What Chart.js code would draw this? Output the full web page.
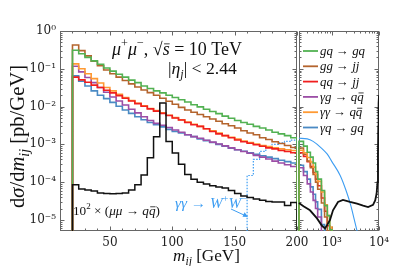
<!DOCTYPE html>
<html>
<head>
<meta charset="utf-8">
<script src="https://cdn.jsdelivr.net/npm/chart.js@4"></script>
<style>
  html, body { margin: 0; padding: 0; background: #fff; }
  canvas { display: block; }
</style>
</head>
<body>
<canvas id="c" width="399" height="266" style="width:399px;height:266px"></canvas>
<script>
// low edges of the 5 GeV bins in the left (linear) panel
const massLow = [20,25,30,35,40,45,50,55,60,65,70,75,80,85,90,95,100,105,110,115,120,125,130,135,140,145,150,155,160,165,170,175,180,185,190,195];
const gqGq = [0.309,0.251,0.200,0.162,0.132,0.105,0.087,0.072,0.060,0.050,0.043,0.035,0.030,0.026,0.023,0.020,0.0174,0.0151,0.0132,0.0112,0.0098,0.0085,0.0074,0.0065,0.0056,0.0049,0.0043,0.0038,0.0034,0.0030,0.0027,0.0024,0.0021,0.0019,0.0017,0.0015];
const ggJj = [0.427,0.302,0.219,0.158,0.120,0.093,0.074,0.060,0.049,0.040,0.033,0.0275,0.0234,0.0200,0.0166,0.0138,0.0115,0.0095,0.0081,0.0071,0.0062,0.0054,0.0047,0.0041,0.0035,0.0031,0.0027,0.0023,0.0020,0.0018,0.0015,0.00135,0.00117,0.00105,0.00093,0.00083];
const qqJj = [0.060,0.051,0.044,0.037,0.032,0.027,0.023,0.0195,0.0166,0.0141,0.0120,0.0102,0.0087,0.0076,0.0066,0.0058,0.0050,0.0044,0.0038,0.0033,0.0030,0.0026,0.0022,0.0019,0.0017,0.0015,0.0013,0.00117,0.00107,0.00098,0.00089,0.00081,0.00076,0.00069,0.00065,0.00060];
const agQq = [0.117,0.083,0.059,0.043,0.032,0.024,0.018,0.0141,0.0110,0.0085,0.0068,0.0054,0.0043,0.0036,0.0032,0.0028,0.0024,0.0021,0.0018,0.0016,0.00145,0.00129,0.00115,0.00102,0.00091,0.00081,0.00072,0.00065,0.00058,0.00051,0.00046,0.00041,0.00036,0.00032,0.00029,0.00026];
const aaQq = [0.135,0.100,0.074,0.055,0.042,0.032,0.026,0.021,0.0174,0.0145,0.0123,0.0105,0.0089,0.0078,0.0068,0.0059,0.0051,0.0045,0.0039,0.0034,0.0030,0.0026,0.0023,0.0020,0.0017,0.00155,0.00138,0.00123,0.00112,0.00102,0.00093,0.00087,0.00081,0.00076,0.00072,0.00069];
const aqGq = [0.065,0.047,0.035,0.026,0.020,0.0162,0.0129,0.0102,0.0081,0.0066,0.0054,0.0045,0.0038,0.0033,0.0029,0.0025,0.0022,0.0020,0.0018,0.0016,0.0014,0.00126,0.00112,0.00100,0.00089,0.00079,0.00072,0.00066,0.00060,0.00055,0.00050,0.00046,0.00042,0.00038,0.00035,0.00032];
// 10^2 x (mu mu -> q qbar)
const mumuQq = [8.5e-5,6.6e-5,6.2e-5,5.8e-5,5.2e-5,5.0e-5,4.9e-5,5.0e-5,5.2e-5,6.2e-5,8.5e-5,1.55e-4,4.4e-4,1.6e-3,1.25e-2,1.2e-3,5.9e-4,3.0e-4,1.6e-4,1.2e-4,1.0e-4,9e-5,8e-5,7.4e-5,7e-5,6e-5,5e-5,4.3e-5,3.9e-5,3.6e-5,3.3e-5,3.1e-5,3.0e-5,3.0e-5,2.4e-5,2.9e-5];
const wwLow = [160,165,170,175,180,185,190,195];
const aaWW = [1.5e-4,4e-4,6.5e-4,8.5e-4,1.0e-3,1.1e-3,1.2e-3,1.3e-3];

// right (log) panel
const highMass = [200,250,300,350,400,450,500,600,700,800,900,1000];
const gqGqHigh = [1.2e-3,9e-4,6.2e-4,4.6e-4,3.2e-4,1.9e-4,1.2e-4,6e-5,2.4e-5,1.3e-5,5.5e-6,3e-6];
const ggJjHigh = [8e-4,5.5e-4,3.6e-4,2.4e-4,1.6e-4,1e-4,6.5e-5,2.8e-5,1.2e-5,5e-6,2.5e-6,1.2e-6];
const qqJjHigh = [6e-4,4.8e-4,3.5e-4,2.6e-4,1.8e-4,1.2e-4,8e-5,3.8e-5,1.7e-5,7e-6,3.5e-6,1.5e-6];
const agQqHigh = [2.4e-4,1.5e-4,9e-5,5.5e-5,3.3e-5,2e-5,1.2e-5,4.5e-6,2e-6,8e-7,3e-7,1e-7];
const aaQqHigh = [7e-4,6e-4,4.5e-4,3.4e-4,2.5e-4,1.6e-4,1.05e-4,5.5e-5,2.5e-5,1.3e-5,6.5e-6,3.5e-6];
const aqGqHigh = [2.8e-4,1.9e-4,1.2e-4,7.5e-5,4.8e-5,3e-5,1.9e-5,7.5e-6,3e-6,1.2e-6,5e-7,2e-7];
const mumuMass = [200,250,343,484,617,716,800,914,1056,1350,1720,2420,3420,4600,5870,7480,8300,8900,9300,9500,9650,9800,10000];
const mumuHigh = [2.8e-5,2.3e-5,1.8e-5,1.1e-5,7e-6,6e-6,7.5e-6,1e-5,1.8e-5,3e-5,3.4e-5,3e-5,2.7e-5,2.4e-5,2.2e-5,2.5e-5,3.3e-5,5e-5,1e-4,5e-4,3e-3,1.2e-2,2e-2];
const wwMass = [200,300,400,600,800,1000,1500,2000,2500,3000,3500,4000];
const aaWWHigh = [1.45e-3,1.4e-3,1.2e-3,8e-4,5.5e-4,3.5e-4,1.5e-4,6e-5,2.5e-5,1e-5,4.5e-6,2e-6];

const yTicks = [1e-5,1e-4,1e-3,1e-2,1e-1,1];
const xTicks = [50,100,150,200];
const x2Ticks = [1000,10000];

const FLOOR = 1e-8;
const C = {
  green: '#52b152', brown: '#b4642d', red: '#f01f1f', purple: '#9c4ea6',
  orange: '#ff9a33', blue: '#4a8ac4', ww: '#3d9df2', black: '#111111'
};

// step histogram points: rise from below at first edge, drop at last edge
function hist(lows, vals, hi) {
  const pts = [{x: lows[0], y: FLOOR}];
  lows.forEach((m, i) => pts.push({x: m, y: vals[i]}));
  pts.push({x: hi, y: vals[vals.length - 1]});
  pts.push({x: hi, y: FLOOR});
  return pts;
}
function curve(ms, vals) { return ms.map((m, i) => ({x: m, y: vals[i]})); }

function ds(data, color, axis, extra) {
  return Object.assign({
    data: data, xAxisID: axis, yAxisID: 'y', borderColor: color,
    borderWidth: 1.6, stepped: true, pointRadius: 0, fill: false
  }, extra || {});
}

const datasets = [
  ds(hist(massLow, mumuQq, 200), C.black, 'x', {borderWidth: 1.5}),
  ds(curve(mumuMass, mumuHigh), C.black, 'x2', {stepped: false, borderWidth: 1.8}),
  ds(hist(massLow, gqGq, 200), C.green, 'x'),
  ds(hist(highMass, gqGqHigh, 1100), C.green, 'x2'),
  ds(hist(highMass, aaQqHigh, 1100), C.orange, 'x2'),
  ds(hist(massLow, ggJj, 200), C.brown, 'x'),
  ds(hist(highMass, ggJjHigh, 1100), C.brown, 'x2'),
  ds(hist(massLow, qqJj, 200), C.red, 'x'),
  ds(hist(highMass, qqJjHigh, 1100), C.red, 'x2'),
  ds(hist(massLow, aaQq, 200), C.orange, 'x'),
  ds(hist(massLow, agQq, 200), C.purple, 'x'),
  ds(hist(highMass, agQqHigh, 1100), C.purple, 'x2'),
  ds(hist(massLow, aqGq, 200), C.blue, 'x'),
  ds(hist(highMass, aqGqHigh, 1100), C.blue, 'x2'),
  ds(hist(wwLow, aaWW, 200), C.ww, 'x', {borderWidth: 1.2, borderDash: [1.5, 1.5]}),
  ds(curve(wwMass, aaWWHigh), C.ww, 'x2', {stepped: false, borderWidth: 1.1, cubicInterpolationMode: 'monotone'})
];

const legendItems = [
  [C.green, [['gq','i'],[' \u2192 ','r'],['gq','i']]],
  [C.brown, [['gg','i'],[' \u2192 ','r'],['jj','i']]],
  [C.red, [['qq','i'],[' \u2192 ','r'],['jj','i']]],
  [C.purple, [['\u03b3g','i'],[' \u2192 ','r'],['q','i'],['q','ib']]],
  [C.orange, [['\u03b3\u03b3','i'],[' \u2192 ','r'],['q','i'],['q','ib']]],
  [C.blue, [['\u03b3q','i'],[' \u2192 ','r'],['gq','i']]]
];

const FONT = '"Liberation Serif", "DejaVu Serif", serif';
// [italic, size factor, baseline shift, overbar]
const STY = { r:[0,1,0], i:[1,1,0], sr:[0,.68,-.42], si:[1,.68,-.42], bi:[1,.68,.25], ib:[1,1,0,1] };
function setFont(ctx, k, s) {
  const st = STY[k];
  ctx.font = (st[0] ? 'italic ' : '') + (s * st[1]).toFixed(2) + 'px ' + FONT;
  return st;
}
function richWidth(ctx, parts, s) {
  let w = 0;
  for (const [t, k] of parts) { setFont(ctx, k, s); w += ctx.measureText(t).width; }
  return w;
}
function fitSize(ctx, parts, width) { return 12 * width / richWidth(ctx, parts, 12); }
function rich(ctx, parts, x, y, s, color) {
  ctx.fillStyle = color; ctx.strokeStyle = color;
  ctx.textAlign = 'left'; ctx.textBaseline = 'alphabetic';
  let cx = x;
  for (const [t, k] of parts) {
    const st = setFont(ctx, k, s);
    const w = ctx.measureText(t).width;
    ctx.fillText(t, cx, y + st[2] * s);
    if (st[3]) {
      ctx.lineWidth = 0.8;
      ctx.beginPath();
      ctx.moveTo(cx + w * 0.2, y - s * 0.62);
      ctx.lineTo(cx + w * 1.0, y - s * 0.62);
      ctx.stroke();
    }
    cx += w;
  }
}
function richFit(ctx, parts, x, y, width, color) { rich(ctx, parts, x, y, fitSize(ctx, parts, width), color); }

function panelEdges(chart) {
  const xs = chart.scales.x, x2 = chart.scales.x2;
  return {
    top: Math.round(chart.chartArea.top) + 0.5,
    bot: Math.round(chart.chartArea.bottom) - 0.5,
    p1l: Math.round(xs.left) + 0.5, p1r: Math.round(xs.right) - 0.5,
    p2l: Math.round(x2.getPixelForValue(200)) + 0.5, p2r: Math.round(x2.right) - 0.5
  };
}

const deco = {
  id: 'deco',
  // frames and inward ticks go under the histograms
  beforeDatasetsDraw(chart) {
    const ctx = chart.ctx;
    const ys = chart.scales.y, xs = chart.scales.x, x2 = chart.scales.x2;
    const {top, bot, p1l, p1r, p2l, p2r} = panelEdges(chart);
    ctx.save();
    ctx.strokeStyle = '#666'; ctx.lineWidth = 1;
    ctx.strokeRect(p1l, top, p1r - p1l, bot - top);
    ctx.strokeRect(p2l, top, p2r - p2l, bot - top);
    ctx.beginPath();
    for (let e = -6; e <= 0; e++) {
      for (let k = 1; k <= 9; k++) {
        const v = k * Math.pow(10, e);
        if (v < ys.min || v > ys.max) continue;
        const y = Math.round(ys.getPixelForValue(v)) + 0.5;
        const len = k === 1 ? 4 : 2;
        [[p1l, 1], [p1r, -1], [p2l, 1], [p2r, -1]].forEach(([x, d]) => {
          ctx.moveTo(x, y); ctx.lineTo(x + d * len, y);
        });
      }
    }
    for (let m = 10; m <= 200; m += 10) {
      const x = Math.round(xs.getPixelForValue(m)) + 0.5;
      const len = m % 50 === 0 ? 4 : 2;
      ctx.moveTo(x, bot); ctx.lineTo(x, bot - len);
      ctx.moveTo(x, top); ctx.lineTo(x, top + len);
    }
    const logT = [];
    for (let m = 200; m < 1000; m += 100) logT.push(m);
    for (let m = 1000; m <= 10000; m += 1000) logT.push(m);
    logT.forEach(m => {
      const x = Math.round(x2.getPixelForValue(m)) + 0.5;
      const len = (m === 1000 || m === 10000) ? 4 : 2;
      ctx.moveTo(x, bot); ctx.lineTo(x, bot - len);
      ctx.moveTo(x, top); ctx.lineTo(x, top + len);
    });
    ctx.stroke();
    ctx.restore();
  },
  afterDraw(chart) {
    const ctx = chart.ctx;
    ctx.save();
    const ink = '#111';
    richFit(ctx, [['\u03bc','i'],['+','sr'],['\u03bc','i'],['\u2212','sr'],[', ','r'],['\u221a','r'],['s','ib'],[' = 10 TeV','r']], 112, 55, 130, ink);
    richFit(ctx, [['|','r'],['\u03b7','i'],['j','bi'],['| < 2.44','r']], 168, 74, 69, ink);
    richFit(ctx, [['10','r'],['2','sr'],[' \u00d7 (','r'],['\u03bc\u03bc','i'],[' \u2192 ','r'],['q','i'],['q','ib'],[')','r']], 73, 215, 87, ink);
    richFit(ctx, [['\u03b3\u03b3','i'],[' \u2192 ','r'],['W','i'],['+','sr'],['W','i'],['\u2212','sr']], 175, 208, 72, C.ww);
    // arrow towards the dotted W+W- histogram
    ctx.strokeStyle = C.ww; ctx.fillStyle = C.ww; ctx.lineWidth = 1;
    ctx.beginPath(); ctx.moveTo(231, 209); ctx.lineTo(245, 215.5); ctx.stroke();
    ctx.beginPath(); ctx.moveTo(248, 217); ctx.lineTo(242.5, 216.8); ctx.lineTo(244.6, 212.3); ctx.closePath(); ctx.fill();

    richFit(ctx, [['m','i'],['ij','bi'],[' [GeV]','r']], 173, 261, 67, ink);
    ctx.save();
    ctx.translate(24, 208); ctx.rotate(-Math.PI / 2);
    richFit(ctx, [['d','r'],['\u03c3','i'],['/d','r'],['m','i'],['ij','bi'],[' [pb/GeV]','r']], 0, 0, 143, ink);
    ctx.restore();

    // legend
    const ls = fitSize(ctx, legendItems[0][1], 45);
    legendItems.forEach(([col, parts], i) => {
      const y = 51 + i * 15.3;
      ctx.strokeStyle = col; ctx.lineWidth = 1.8;
      ctx.beginPath(); ctx.moveTo(303, y); ctx.lineTo(318, y); ctx.stroke();
      rich(ctx, parts, 320, y + 4, ls, ink);
    });
    ctx.restore();
  }
};

const sup = {'-':'\u207b','0':'\u2070','1':'\u00b9','2':'\u00b2','3':'\u00b3','4':'\u2074','5':'\u2075'};
function pow10Label(v) {
  const e = String(Math.round(Math.log10(v)));
  return '10' + e.split('').map(c => sup[c]).join('');
}
const tickFont = {family: '"DejaVu Serif", serif', size: 12};

new Chart(document.getElementById('c'), {
  type: 'line',
  data: { datasets: datasets },
  options: {
    responsive: false,
    animation: false,
    devicePixelRatio: 1,
    layout: { padding: { top: 31, right: 20, left: 0, bottom: 0 } },
    plugins: { legend: { display: false }, tooltip: { enabled: false } },
    scales: {
      x: {
        type: 'linear', position: 'bottom', stack: 'mass', stackWeight: 237,
        min: 10, max: 200,
        grid: { display: false, drawTicks: false }, border: { display: false },
        ticks: { font: tickFont, color: '#222', padding: 5, autoSkip: false, maxRotation: 0, callback: v => String(v) },
        afterBuildTicks: s => { s.ticks = xTicks.map(v => ({value: v})); },
        afterFit: s => { s.height = 35; s.paddingLeft = 0; s.paddingRight = 0; }
      },
      x2: {
        type: 'logarithmic', position: 'bottom', stack: 'mass', stackWeight: 82,
        min: 182, max: 10000,
        grid: { display: false, drawTicks: false }, border: { display: false },
        ticks: { font: tickFont, color: '#222', padding: 5, autoSkip: false, maxRotation: 0, callback: v => pow10Label(v) },
        afterBuildTicks: s => { s.ticks = x2Ticks.map(v => ({value: v})); },
        afterFit: s => { s.height = 35; s.paddingLeft = 0; s.paddingRight = 0; }
      },
      y: {
        type: 'logarithmic', position: 'left',
        min: 5.1e-6, max: 1,
        grid: { display: false, drawTicks: false }, border: { display: false },
        ticks: { font: tickFont, color: '#222', padding: 4, autoSkip: false, callback: v => pow10Label(v) },
        afterBuildTicks: s => { s.ticks = yTicks.map(v => ({value: v})); },
        afterFit: s => { s.width = 60; s.paddingTop = 0; s.paddingBottom = 0; }
      }
    }
  },
  plugins: [deco]
});
</script>
</body>
</html>
